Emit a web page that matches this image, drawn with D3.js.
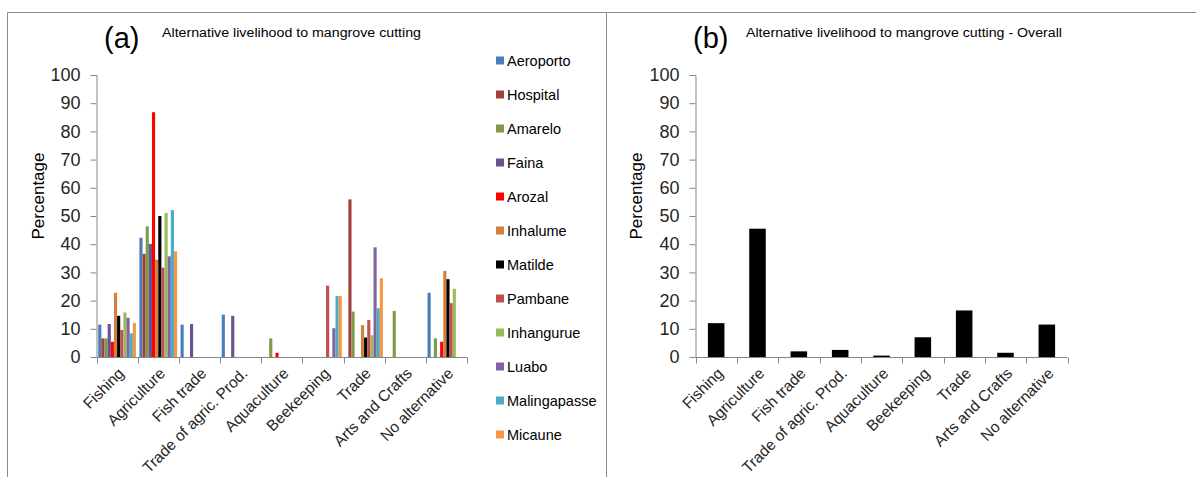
<!DOCTYPE html>
<html><head><meta charset="utf-8">
<script src="https://cdn.jsdelivr.net/npm/d3@7"></script>
<style>
html,body{margin:0;padding:0;background:#fff;}
svg{display:block;font-family:"Liberation Sans",Arial,sans-serif;}
</style></head>
<body><svg id="c" width="1197" height="477"></svg>
<script>
const categories = ["Fishing","Agriculture","Fish trade","Trade of agric. Prod.","Aquaculture","Beekeeping","Trade","Arts and Crafts","No alternative"];
const series = ["Aeroporto","Hospital","Amarelo","Faina","Arozal","Inhalume","Matilde","Pambane","Inhangurue","Luabo","Malingapasse","Micaune"];
const colors = ["#4A7EBB","#A0403D","#7F9A48","#6A5290","#FF0000","#D2803E","#000000","#C0504D","#9BBB59","#8064A2","#4BACC6","#F79646"];
// values per series, in category order
const Aeroporto    = [11.5, 42.3, 11.5, 15.0, 0,   0,    0,    0,    22.8];
const Hospital     = [6.6,  36.6, 0,    0,    0,   0,    55.9, 0,    0];
const Amarelo      = [6.6,  46.3, 0,    0,    6.6, 0,    16.1, 16.3, 6.6];
const Faina        = [11.7, 40.1, 11.7, 14.6, 0,   0,    0,    0,    0];
const Arozal       = [5.4,  86.8, 0,    0,    1.5, 0,    0,    0,    5.4];
const Inhalume     = [22.8, 34.5, 0,    0,    0,   0,    11.3, 0,    30.5];
const Matilde      = [14.6, 50.0, 0,    0,    0,   0,    6.9,  0,    27.6];
const Pambane      = [9.6,  31.7, 0,    0,    0,   25.3, 13.1, 0,    19.1];
const Inhangurue   = [15.8, 51.1, 0,    0,    0,   0,    7.7,  0,    24.2];
const Luabo        = [13.9, 35.7, 0,    0,    0,   10.2, 38.9, 0,    0];
const Malingapasse = [8.4,  52.1, 0,    0,    0,   21.6, 17.3, 0,    0];
const Micaune      = [12.1, 37.5, 0,    0,    0,   21.6, 27.9, 0,    0];
const overall      = [12.0, 45.5, 2.0,  2.5,  0.5, 7.0,  16.5, 1.5,  11.5];
const yTicks = [0,10,20,30,40,50,60,70,80,90,100];

const seriesValues = [Aeroporto,Hospital,Amarelo,Faina,Arozal,Inhalume,Matilde,Pambane,Inhangurue,Luabo,Malingapasse,Micaune];

const svg = d3.select("#c");
const frame = "#8c8c8c";
// frame lines
svg.append("line").attr("x1",7.5).attr("x2",1196).attr("y1",12.5).attr("y2",12.5).attr("stroke",frame);
svg.append("line").attr("x1",7.5).attr("x2",7.5).attr("y1",12.5).attr("y2",477).attr("stroke",frame);
svg.append("line").attr("x1",606.5).attr("x2",606.5).attr("y1",12.5).attr("y2",477).attr("stroke",frame);

function panel(opt){
  const y = d3.scaleLinear().domain([0,100]).range([357,75]);
  const x = d3.scaleBand().domain(categories).range([opt.x0, opt.x1]);
  const g = svg.append("g");
  // y axis
  const ya = g.append("g").attr("transform",`translate(${opt.x0},0)`)
    .call(d3.axisLeft(y).tickValues(yTicks).tickSize(6).tickPadding(10));
  ya.select(".domain").attr("stroke","#868686").attr("d",`M-6,${y(100)+0.5}H0.5V${y(0)}`);
  ya.selectAll(".tick line").attr("stroke","#868686");
  ya.selectAll("text").attr("font-size",18).attr("fill","#262626").attr("font-family","Liberation Sans, Arial, sans-serif");
  // bars
  opt.draw(g, x, y);
  // x axis
  const xa = g.append("g").attr("transform",`translate(0,${y(0)+0.5})`);
  xa.append("line").attr("x1",opt.x0).attr("x2",opt.x1).attr("stroke","#868686");
  const bounds = categories.map(c=>x(c)).concat([opt.x1]);
  xa.selectAll("line.t").data(bounds).join("line").attr("class","t")
    .attr("x1",d=>Math.round(d)+0.5).attr("x2",d=>Math.round(d)+0.5).attr("y1",0).attr("y2",6).attr("stroke","#868686");
  xa.selectAll("text").data(categories).join("text")
    .attr("transform",d=>`translate(${x(d)+x.bandwidth()/2+4},${13}) rotate(-45)`)
    .attr("text-anchor","end").attr("dy","0.35em").attr("font-size",15.5).attr("fill","#262626")
    .text(d=>d);
  // y label
  g.append("text").attr("transform",`translate(${opt.labX},196) rotate(-90)`)
    .attr("text-anchor","middle").attr("dy","0.35em").attr("font-size",17).attr("fill","#000").text("Percentage");
  // titles
  g.append("text").attr("x",opt.tagX).attr("y",48).attr("font-size",29).attr("fill","#000").text(opt.tag);
  g.append("text").attr("x",opt.titleX).attr("y",37).attr("font-size",12.5).attr("fill","#000")
    .attr("textLength",opt.titleW).attr("lengthAdjust","spacingAndGlyphs").text(opt.title);
}

panel({x0:96.5, x1:467, labX:38, tag:"(a)", tagX:104, titleX:162, titleW:259,
  title:"Alternative livelihood to mangrove cutting",
  draw:(g,x,y)=>{
    const bw = x.bandwidth();
    const w = bw/(12+1.1);
    const inner = d3.scaleBand().domain(series).range([0.55*w, bw-0.55*w]);
    series.forEach((s,si)=>{
      g.append("g").selectAll("rect").data(seriesValues[si].map((v,ci)=>({v,c:categories[ci]})).filter(d=>d.v>0))
        .join("rect").attr("x",d=>x(d.c)+inner(s)).attr("width",inner.bandwidth())
        .attr("y",d=>y(d.v)).attr("height",d=>y(0)-y(d.v)).attr("fill",colors[si]);
    });
  }});

panel({x0:695.5, x1:1067.5, labX:636, tag:"(b)", tagX:693, titleX:746, titleW:316,
  title:"Alternative livelihood to mangrove cutting - Overall",
  draw:(g,x,y)=>{
    const bw = x.bandwidth();
    const w = bw/2.5;
    g.append("g").selectAll("rect").data(overall.map((v,ci)=>({v,c:categories[ci]})))
      .join("rect").attr("x",d=>x(d.c)+0.75*w).attr("width",w)
      .attr("y",d=>y(d.v)).attr("height",d=>y(0)-y(d.v)).attr("fill","#000");
  }});

// legend
const lg = svg.append("g");
series.forEach((s,i)=>{
  const yy = 60.5 + i*34.0;
  lg.append("rect").attr("x",496).attr("y",yy-4).attr("width",8).attr("height",8).attr("fill",colors[i]);
  lg.append("text").attr("x",507).attr("y",yy).attr("dy","0.35em").attr("font-size",14.5).attr("fill","#000").text(s);
});
</script></body></html>
